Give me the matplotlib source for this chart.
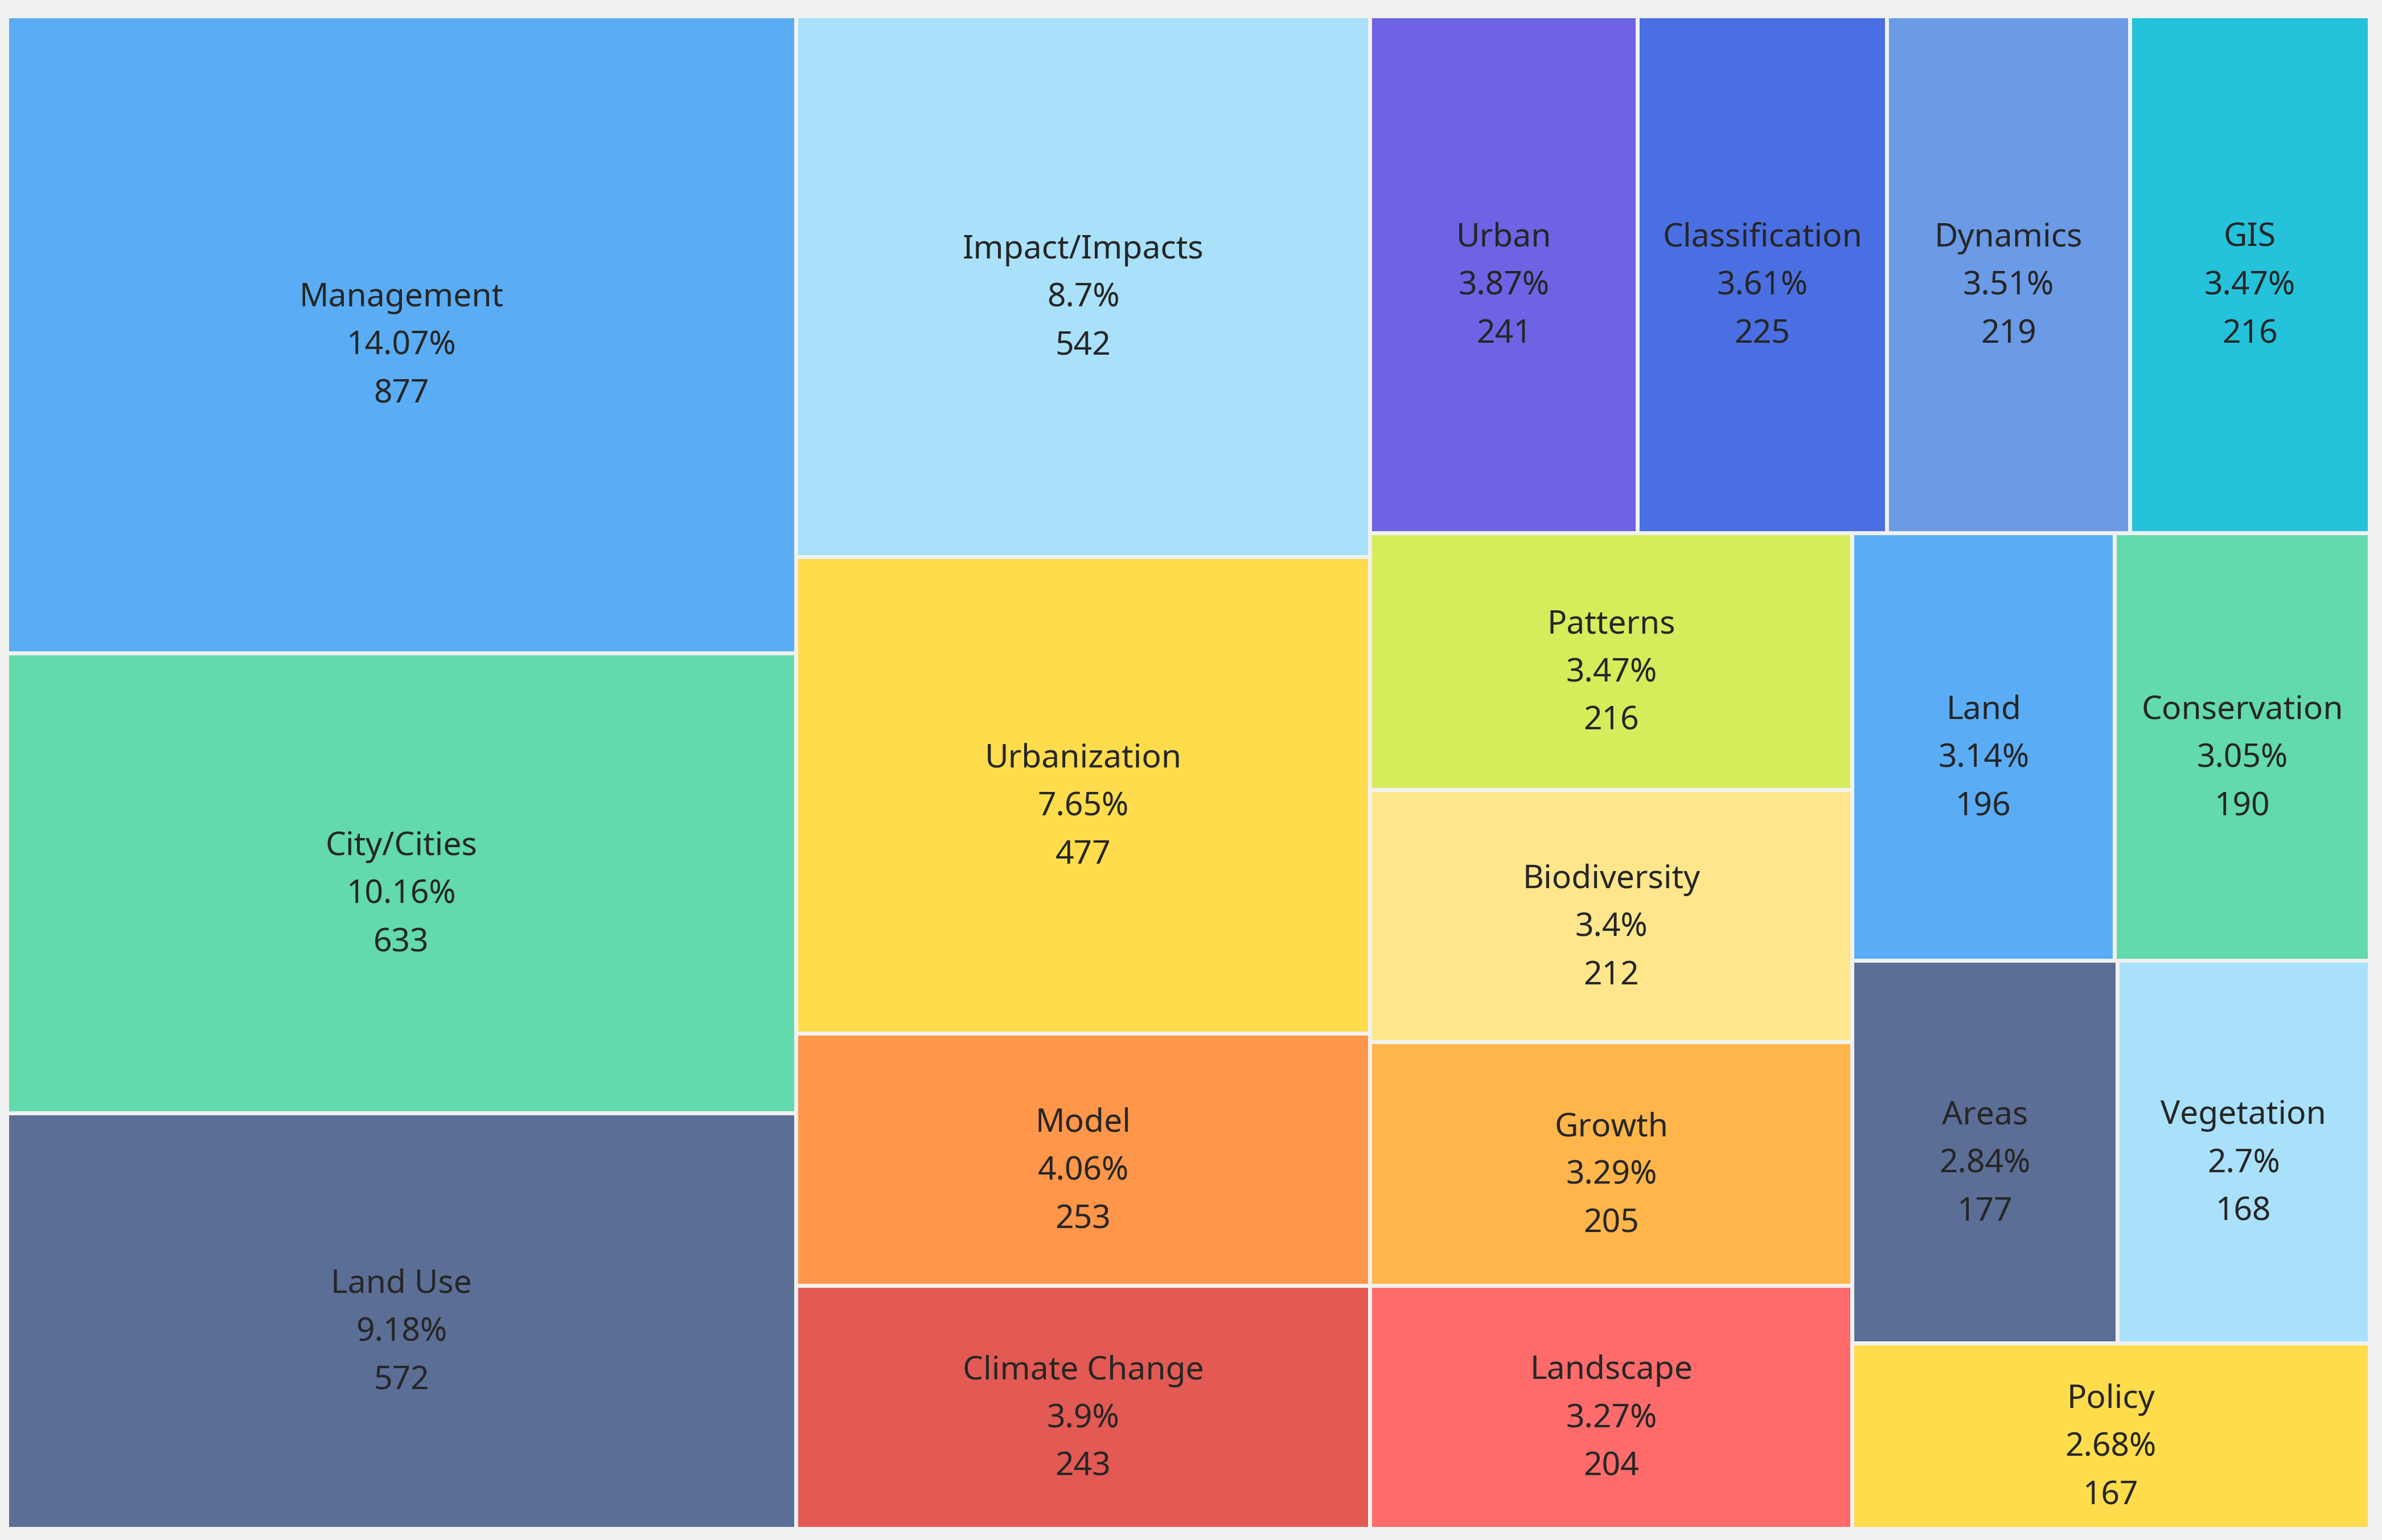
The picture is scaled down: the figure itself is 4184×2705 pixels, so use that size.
import matplotlib.pyplot as plt
from matplotlib.patches import Rectangle

# keyword frequencies
names = ['Management', 'City/Cities', 'Land Use', 'Impact/Impacts', 'Urbanization',
         'Model', 'Climate Change', 'Urban', 'Classification', 'Dynamics', 'GIS',
         'Patterns', 'Biodiversity', 'Growth', 'Landscape', 'Land', 'Conservation',
         'Areas', 'Vegetation', 'Policy']
counts = [877, 633, 572, 542, 477, 253, 243, 241, 225, 219, 216,
          216, 212, 205, 204, 196, 190, 177, 168, 167]
palette = ['#5aadf5', '#62daab', '#5b6e96', '#a9e0fa', '#ffdc4c', '#ff9649', '#e25a53',
           '#6d63e4', '#4a6fe3', '#6b9ae6', '#24c3db', '#d6ec5b', '#ffe68c', '#ffb54a',
           '#ff6b6b']

W, H = 4150.0, 2657.0   # plotting area in pixels
GAP = 3.5               # half gap between cells
RATIO = 0.5 * (1 + 5 ** 0.5)


def worst(row_areas, fixed):
    s = sum(row_areas)
    if s == 0:
        return float('inf')
    f = fixed * fixed * RATIO
    return max(f * max(row_areas) / (s * s), (s * s) / (f * min(row_areas)))


def place(row, rect, fixed, flush, out):
    x, y, w, h = rect
    along_x = fixed == w
    s = sum(a for _, a in row)
    other = s / fixed if fixed else 0
    limit = h if along_x else w
    if flush or other > limit:
        other = limit
    last = x if along_x else y
    end = (x + w) if along_x else (y + h)
    for k, (idx, a) in enumerate(row):
        step = a / other if other else 0
        remain = end - last
        size = remain if (k == len(row) - 1 or remain < step) else step
        if along_x:
            out[idx] = (last, y, size, other)
        else:
            out[idx] = (x, last, other, size)
        last += size
    if along_x:
        return (x, y + other, w, h - other)
    return (x + other, y, w - other, h)


def squarify(values, w, h):
    total = float(sum(values))
    items = [(i, v * w * h / total) for i, v in enumerate(values)]
    rect = (0.0, 0.0, w, h)
    out = {}
    row = []
    best = float('inf')
    fixed = min(w, h)
    while items:
        trial = row + [items[0]]
        score = worst([a for _, a in trial], fixed)
        if score <= best:
            row = trial
            items.pop(0)
            best = score
        else:
            rect = place(row, rect, fixed, False, out)
            fixed = min(rect[2], rect[3])
            row = []
            best = float('inf')
    if row:
        place(row, rect, fixed, True, out)
    return [out[i] for i in range(len(values))]


total = sum(counts)
cells = squarify(counts, W, H)

fig = plt.figure(figsize=(41.84, 27.05), dpi=100, facecolor='#f1f1f1')
ax = fig.add_axes([12 / 4184, 20 / 2705, W / 4184, H / 2705])
ax.set_xlim(0, W)
ax.set_ylim(H, 0)
ax.set_facecolor('#f7f7f7')
ax.axis('off')

line_step = 61  # points between label lines
for i, (x, y, w, h) in enumerate(cells):
    ax.add_patch(Rectangle((x + GAP, y + GAP), w - 2 * GAP, h - 2 * GAP,
                           facecolor=palette[i % len(palette)], edgecolor='none'))
    share = round(counts[i] / total * 100, 2)
    lines = [names[i], f'{share:g}%', str(counts[i])]
    cx, cy = x + w / 2, y + h / 2
    for k, txt in enumerate(lines):
        ax.annotate(txt, xy=(cx, cy), xytext=(0, (1 - k) * line_step - 15),
                    textcoords='offset points', ha='center', va='center',
                    fontsize=41, color='#262626', family=['Noto Sans', 'DejaVu Sans'])

fig.savefig('out.png', dpi=100, facecolor=fig.get_facecolor())
